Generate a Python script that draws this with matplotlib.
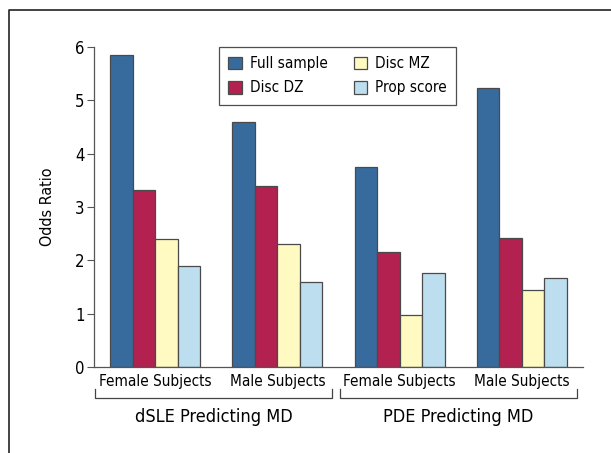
"""
Odds ratios by sex and predictor (grouped bars)
"""

import matplotlib
matplotlib.use("Agg")
import matplotlib.pyplot as plt
import numpy as np
from matplotlib.lines import Line2D
from matplotlib.transforms import blended_transform_factory

plt.rcParams['font.family'] = ['DejaVu Sans']
plt.rcParams['font.stretch'] = 'condensed'

# data
subgroups = ['Female Subjects', 'Male Subjects', 'Female Subjects', 'Male Subjects']
groups = ['dSLE Predicting MD', 'PDE Predicting MD']
series = ['Full sample', 'Disc DZ', 'Disc MZ', 'Prop score']
full_sample = [5.85, 4.60, 3.75, 5.23]
disc_dz = [3.32, 3.40, 2.15, 2.42]
disc_mz = [2.40, 2.31, 0.98, 1.45]
prop_score = [1.90, 1.59, 1.76, 1.66]

colores = ['#386b9d', '#b2214f', '#fff9c2', '#bddeee']

fig = plt.figure(figsize=(6.11, 4.53), dpi=100)
ax = fig.add_axes([0.154, 0.19, 0.80, 0.706])

x = np.arange(len(subgroups))
ancho = 0.184
valores = [full_sample, disc_dz, disc_mz, prop_score]
for i, (nombre, vals) in enumerate(zip(series, valores)):
    ax.bar(x + (i - 1.5) * ancho, vals, ancho, color=colores[i],
           edgecolor='#4a4a4a', linewidth=0.9, label=nombre)

ax.set_xlim(-0.5, 3.5)
ax.set_ylim(0, 6)
ax.set_yticks(range(7))
ax.set_xticks(x)
ax.set_xticklabels(subgroups, fontsize=11)
ax.tick_params(axis='x', length=0, pad=5)
ax.tick_params(axis='y', length=5, width=0.8, color='#555555', labelsize=12, pad=2)
ax.set_ylabel('Odds Ratio', fontsize=11.5, labelpad=14)

for lado in ['top', 'right']:
    ax.spines[lado].set_visible(False)
for lado in ['left', 'bottom']:
    ax.spines[lado].set_color('#555555')
    ax.spines[lado].set_linewidth(0.9)

# brackets under the subgroup labels
trans = blended_transform_factory(ax.transData, fig.transFigure)
y_linea = 1 - 398 / 453
y_punta = 1 - 389 / 453
for j, nombre in enumerate(groups):
    x0 = x[2 * j] - 0.49
    x1 = x[2 * j + 1] + 0.45
    ax.add_line(Line2D([x0, x0, x1, x1], [y_punta, y_linea, y_linea, y_punta],
                       transform=trans, color='#444444', linewidth=0.9, clip_on=False))
    ax.text((x0 + x1) / 2, 1 - 417 / 453, nombre, transform=trans,
            ha='center', va='center', fontsize=13)

leg = ax.legend(ncol=2, loc='upper left', bbox_to_anchor=(0.256, 1.0),
                borderaxespad=0, fontsize=11, frameon=True, fancybox=False,
                borderpad=0.6, handlelength=0.9, handleheight=0.9,
                handletextpad=0.5, columnspacing=1.7, labelspacing=0.6)
leg.get_frame().set_edgecolor('#222222')
leg.get_frame().set_linewidth(0.9)

# outer frame (top and left only)
fig.add_artist(Line2D([9 / 611, 9 / 611, 1], [0, 1 - 9.5 / 453, 1 - 9.5 / 453],
                      transform=fig.transFigure, color='#222222', linewidth=1.2))

fig.savefig('out.png', dpi=100)
